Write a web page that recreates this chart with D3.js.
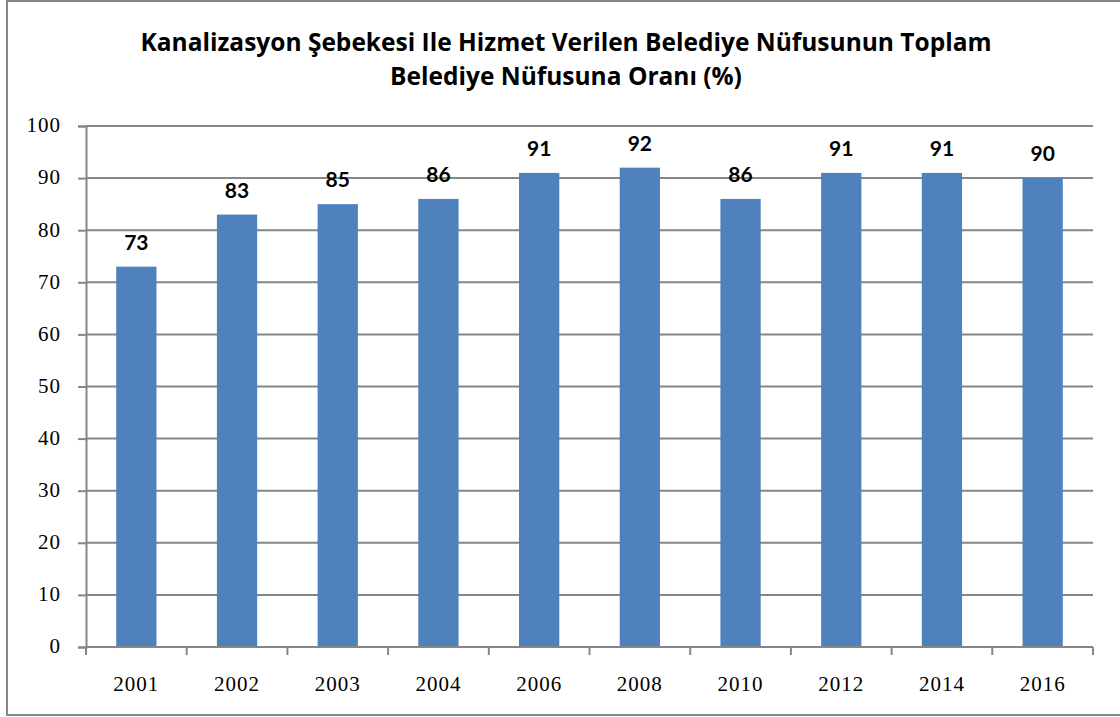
<!DOCTYPE html>
<html lang="tr">
<head>
<meta charset="UTF-8">
<title>Kanalizasyon Şebekesi</title>
<script src="https://d3js.org/d3.v7.min.js"></script>
<style>
  body { margin: 0; background: #fff; }
  .title { font-family: "Open Sans", Lato, sans-serif; font-weight: bold; font-size: 24.5px; fill: #000; }
  .val { font-family: Lato, "Open Sans", sans-serif; font-weight: bold; font-size: 21px; fill: #000; }
  .lbl { font-family: "Liberation Serif", "DejaVu Serif", serif; font-size: 21px; letter-spacing: 1px; fill: #000; }
</style>
</head>
<body>
<div id="chart"></div>
<script>
const years = ["2001", "2002", "2003", "2004", "2006", "2008", "2010", "2012", "2014", "2016"];
const values = [73, 83, 85, 86, 91, 92, 86, 91, 91, 90];
const yTicks = [0, 10, 20, 30, 40, 50, 60, 70, 80, 90, 100];
const titleLines = [
  "Kanalizasyon Şebekesi Ile Hizmet Verilen Belediye Nüfusunun Toplam",
  "Belediye Nüfusuna Oranı (%)"
];

const W = 1120, H = 717;
const m = { left: 86, right: 27, top: 126, bottom: 70 };
const grey = "#868686";

const svg = d3.select("#chart").append("svg")
  .attr("width", W).attr("height", H);

// chart frame (right edge runs off the picture)
svg.append("rect")
  .attr("x", 7).attr("y", 1)
  .attr("width", W + 10).attr("height", 714)
  .attr("fill", "#fff").attr("stroke", grey).attr("stroke-width", 2);

svg.selectAll("text.title")
  .data(titleLines)
  .join("text")
  .attr("class", "title")
  .attr("x", 566)
  .attr("y", (d, i) => 51 + i * 34)
  .attr("text-anchor", "middle")
  .text(d => d);

const x = d3.scaleBand()
  .domain(years)
  .range([m.left, W - m.right])
  .paddingInner(0.6)
  .paddingOuter(0.3);

const y = d3.scaleLinear()
  .domain([0, 100])
  .range([H - m.bottom, m.top]);

// gridlines
svg.append("g")
  .selectAll("line")
  .data(yTicks.slice(1))
  .join("line")
  .attr("x1", m.left).attr("x2", W - m.right)
  .attr("y1", d => y(d)).attr("y2", d => y(d))
  .attr("stroke", grey).attr("stroke-width", 2);

// bars
svg.append("g")
  .selectAll("rect")
  .data(values)
  .join("rect")
  .attr("x", (d, i) => x(years[i]))
  .attr("y", d => y(d))
  .attr("width", x.bandwidth())
  .attr("height", d => y(0) - y(d))
  .attr("fill", "#4F81BD");

// value labels
svg.append("g")
  .selectAll("text")
  .data(values)
  .join("text")
  .attr("class", "val")
  .attr("x", (d, i) => x(years[i]) + x.bandwidth() / 2)
  .attr("y", d => y(d) - 17)
  .attr("text-anchor", "middle")
  .text(d => d);

// y axis line and ticks
const yAxis = svg.append("g")
  .attr("transform", `translate(${m.left},0)`)
  .call(d3.axisLeft(y).tickValues(yTicks).tickSize(8).tickFormat(""));
yAxis.select(".domain").attr("stroke", grey).attr("stroke-width", 2);
yAxis.selectAll(".tick line").attr("stroke", grey).attr("stroke-width", 2);
yAxis.selectAll(".tick text").remove();

// y tick labels
svg.append("g")
  .selectAll("text")
  .data(yTicks)
  .join("text")
  .attr("class", "lbl")
  .attr("x", m.left - 25)
  .attr("y", d => y(d))
  .attr("dy", "0.3em")
  .attr("text-anchor", "end")
  .text(d => d);

// x axis: ticks at category boundaries
const xg = svg.append("g").attr("transform", `translate(0,${y(0)})`);
xg.append("line")
  .attr("x1", m.left).attr("x2", W - m.right)
  .attr("stroke", grey).attr("stroke-width", 2);
xg.selectAll("line.tk")
  .data(d3.range(years.length + 1))
  .join("line")
  .attr("class", "tk")
  .attr("x1", i => m.left + (W - m.left - m.right) * i / years.length)
  .attr("x2", i => m.left + (W - m.left - m.right) * i / years.length)
  .attr("y1", 0).attr("y2", 8)
  .attr("stroke", grey).attr("stroke-width", 2);
xg.selectAll("text")
  .data(years)
  .join("text")
  .attr("class", "lbl")
  .attr("x", d => x(d) + x.bandwidth() / 2)
  .attr("y", 44)
  .attr("text-anchor", "middle")
  .text(d => d);
</script>
</body>
</html>
